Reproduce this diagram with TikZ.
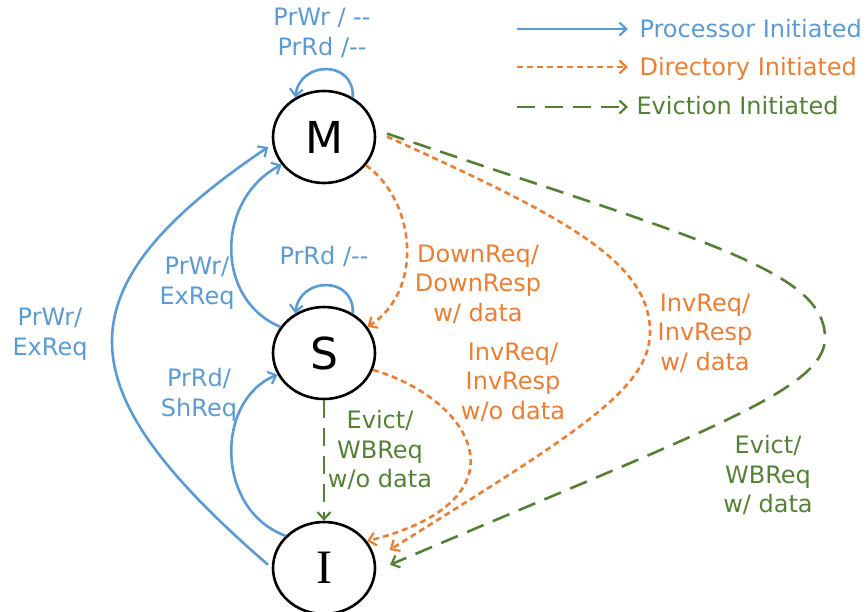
\documentclass[tikz,border=0pt]{standalone}
\usepackage{fontspec}
\setmainfont{DejaVu Sans}
\newfontfamily\serifI{Liberation Serif}
\usetikzlibrary{shapes.geometric,arrows.meta}

\definecolor{procblue}{HTML}{5B9BD5}
\definecolor{dirorange}{HTML}{ED7D31}
\definecolor{evgreen}{HTML}{548235}

\begin{document}
\begin{tikzpicture}[x=1pt, y=-1pt,
    state/.style={draw, ellipse, line width=2.6pt, minimum width=102pt, minimum height=92pt, inner sep=0pt, font=\fontsize{44}{44}\selectfont},
    lbl/.style={align=center, font=\fontsize{24}{29.5}\selectfont},
    tip/.style={-{Straight Barb[length=7pt, width=13pt, line width=2.2pt]}},
    proc/.style={procblue, line width=2.6pt, tip},
    dir/.style={dirorange, line width=2.6pt, dash pattern=on 6pt off 4pt, tip},
    evict/.style={evgreen, line width=2.6pt, dash pattern=on 18pt off 10pt, tip}]
  \useasboundingbox (0,0) rectangle (868,611);

  % States
  \node[state] (m_node) at (324,137) {M};
  \node[state] (s_node) at (324,353) {S};
  \node[state] (i_node) at (324,568) {\fontsize{48}{48}\serifI I};

  % Self loops
  \draw[proc] (m_node.54) .. controls (355,60) and (300,60) .. (m_node.126);
  \node[lbl, procblue] (m_loop) at (322,33) {PrWr / -{}-\\PrRd /-{}-};
  \draw[proc] (s_node.54) .. controls (355,276) and (300,276) .. (s_node.126);
  \node[lbl, procblue] (s_loop) at (324,256) {PrRd /-{}-};

  % Processor initiated
  \draw[proc, shorten <=5pt, shorten >=5pt] (i_node.180) .. controls (70,393) and (51,293) .. (m_node.188);
  \node[lbl, procblue] (im_lbl) at (50,334) {PrWr/\\ExReq};
  \draw[proc] (s_node.149) .. controls (215,300) and (215,200) .. (m_node.213);
  \node[lbl, procblue] (sm_lbl) at (197,283) {PrWr/\\ExReq};
  \draw[proc] (i_node.140) .. controls (215,510) and (215,400) .. (s_node.205);
  \node[lbl, procblue] (is_lbl) at (199,395) {PrRd/\\ShReq};

  % Directory initiated
  \draw[dir] (m_node.-34) .. controls (415,200) and (425,290) .. (s_node.31);
  \node[lbl, dirorange] (ms_lbl) at (478,284) {DownReq/\\DownResp\\w/ data};
  \draw[dir] (s_node.-19) .. controls (475,400) and (530,500) .. (i_node.32);
  \node[lbl, dirorange] (si_lbl) at (513,382) {InvReq/\\InvResp\\w/o data};
  \draw[dir, shorten <=12pt, shorten >=17pt] (m_node.6) .. controls (560,215) and (650,260) .. (650,332)
    .. controls (650,390) and (573,435) .. (i_node.10);
  \node[lbl, dirorange] (mi_lbl) at (705,333) {InvReq/\\InvResp\\w/ data};

  % Eviction initiated
  \draw[evict] (s_node.south) -- (i_node.north);
  \node[lbl, evgreen] (si_ev) at (380,450) {Evict/\\WBReq\\w/o data};
  \draw[evict, shorten <=12pt, shorten >=15pt] (m_node.8) .. controls (700,240) and (825,270) .. (825,338)
    .. controls (825,390) and (705,430) .. (i_node.-3);
  \node[lbl, evgreen] (mi_ev) at (768,475) {Evict/\\WBReq\\w/ data};

  % Legend
  \coordinate (lg_p0) at (517,29);
  \coordinate (lg_p1) at (628,29);
  \coordinate (lg_d0) at (517,67);
  \coordinate (lg_d1) at (628,67);
  \coordinate (lg_e0) at (517,107);
  \coordinate (lg_e1) at (628,107);
  \draw[proc] (lg_p0) -- (lg_p1);
  \draw[dir] (lg_d0) -- (lg_d1);
  \draw[evict] (lg_e0) -- (lg_e1);
  \node[lbl, procblue, anchor=west] (lg_ptxt) at (636,29) {Processor Initiated};
  \node[lbl, dirorange, anchor=west] (lg_dtxt) at (636,69) {Directory Initiated};
  \node[lbl, evgreen, anchor=west] (lg_etxt) at (633,106) {Eviction Initiated};
\end{tikzpicture}
\end{document}
